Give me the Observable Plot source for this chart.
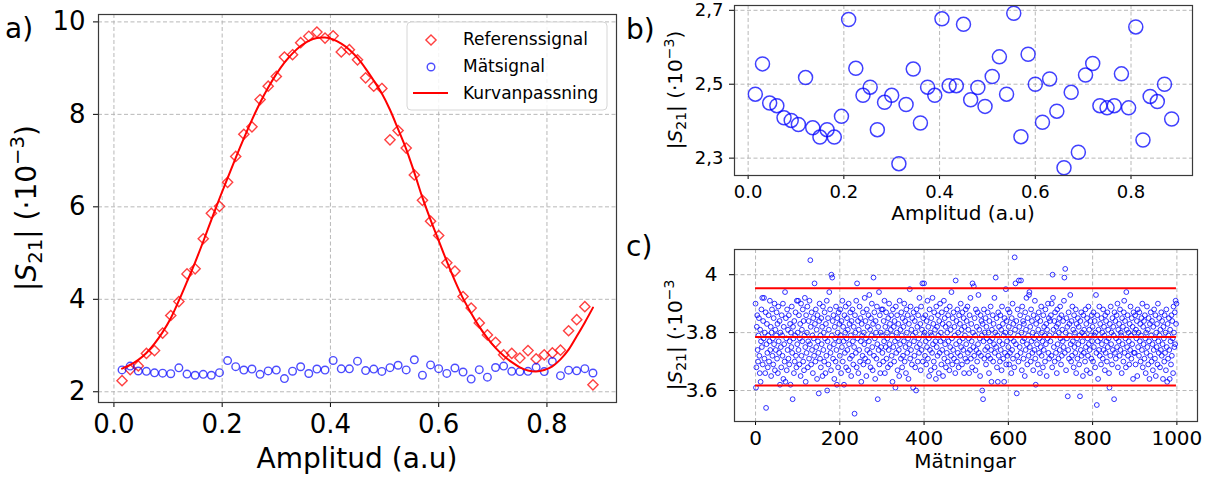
<!DOCTYPE html>
<html><head><meta charset="utf-8">
<script src="https://cdn.jsdelivr.net/npm/d3@7"></script>
<script src="https://cdn.jsdelivr.net/npm/@observablehq/plot@0.6"></script>
<style>
body{margin:0;background:#fff;}
#wrap{position:relative;width:1215px;height:482px;overflow:hidden;font-family:"DejaVu Sans",sans-serif;}
#wrap svg{position:absolute;overflow:visible;max-width:none;}
</style></head><body><div id="wrap"></div>
<script>
// ---------- data ----------
const amplitude = [0.015,0.03,0.045,0.06,0.075,0.09,0.105,0.12,0.135,0.15,0.165,0.18,0.195,0.21,0.225,0.24,0.255,0.27,0.285,0.3,
0.315,0.33,0.345,0.36,0.375,0.39,0.405,0.42,0.435,0.45,0.465,0.48,0.495,0.51,0.525,0.54,0.555,0.57,0.585,0.6,
0.615,0.63,0.645,0.66,0.675,0.69,0.705,0.72,0.735,0.75,0.765,0.78,0.795,0.81,0.825,0.84,0.855,0.87,0.885];
const referenssignal = [2.24,2.48,2.56,2.83,2.89,3.27,3.65,3.95,4.55,4.66,
5.31,5.86,6.01,6.53,7.09,7.57,7.73,8.32,8.61,8.82,
9.24,9.29,9.55,9.69,9.78,9.65,9.70,9.35,9.40,9.18,
8.79,8.61,8.56,7.45,7.65,7.27,6.69,6.14,5.69,5.38,
4.79,4.61,4.06,3.81,3.49,3.23,3.07,2.80,2.83,2.73,
2.89,2.71,2.80,2.84,2.90,3.32,3.56,3.84,2.15];
const matsignal = [2.473,2.555,2.449,2.442,2.409,2.402,2.391,2.518,2.382,2.357,
2.377,2.357,2.413,2.675,2.543,2.470,2.492,2.377,2.451,2.470,
2.285,2.445,2.541,2.395,2.492,2.470,2.677,2.496,2.496,2.662,
2.458,2.491,2.440,2.521,2.574,2.473,2.692,2.358,2.581,2.500,
2.397,2.514,2.427,2.274,2.478,2.316,2.525,2.556,2.442,2.436,
2.442,2.528,2.436,2.655,2.349,2.467,2.453,2.500,2.406];
const kurvanpassning = [2.50,2.58,2.69,2.84,3.04,3.29,3.59,3.97,4.38,4.80,
5.25,5.72,6.18,6.62,7.06,7.48,7.88,8.25,8.58,8.87,
9.12,9.32,9.48,9.59,9.65,9.66,9.62,9.53,9.40,9.22,
8.99,8.73,8.45,8.10,7.68,7.25,6.74,6.20,5.72,5.27,
4.82,4.40,4.02,3.70,3.41,3.16,2.95,2.78,2.64,2.53,
2.46,2.44,2.47,2.55,2.70,2.91,3.20,3.50,3.82];
const matningar = [
3.90,3.61,3.68,3.82,3.86,3.74,3.70,3.79,3.85,3.72,3.66,3.81,3.63,3.77,3.88,3.75,3.92,3.69,3.84,3.78,
3.92,3.71,3.80,3.66,3.87,3.54,3.76,3.83,3.73,3.68,3.79,3.86,3.70,3.77,3.91,3.74,3.82,3.65,3.80,3.88,
3.72,3.78,3.69,3.85,3.76,3.90,3.67,3.81,3.74,3.79,3.87,3.71,3.83,3.66,3.89,3.77,3.73,3.84,3.62,3.80,
3.75,3.68,3.86,3.79,3.72,3.90,3.64,3.82,3.76,3.70,3.94,3.63,3.85,3.78,3.67,3.88,3.74,3.81,3.71,3.86,
3.69,3.77,3.83,3.62,3.80,3.75,3.89,3.73,3.57,3.82,3.78,3.66,3.84,3.70,3.79,3.87,3.72,3.68,3.91,3.76,
3.80,3.91,3.74,3.86,3.69,3.78,3.83,3.65,3.90,3.72,3.81,3.77,3.88,3.70,3.84,3.67,3.79,3.92,3.75,3.63,
3.86,3.73,3.80,3.89,3.68,3.77,3.84,3.71,3.91,3.76,4.05,3.82,3.69,3.87,3.74,3.79,3.66,3.85,3.78,3.72,
3.97,3.83,3.70,3.88,3.75,3.81,3.64,3.86,3.77,3.73,3.59,3.84,3.90,3.71,3.79,3.68,3.85,3.76,3.82,3.65,
3.89,3.74,3.80,3.70,3.87,3.78,3.66,3.83,3.72,3.91,3.60,3.77,3.85,3.69,3.81,3.94,3.75,3.88,3.73,3.67,
4.00,3.79,3.99,3.84,3.71,3.86,3.76,3.64,3.82,3.78,3.70,3.89,3.74,3.62,3.85,3.80,3.68,3.87,3.77,3.83,
3.72,3.88,3.79,3.66,3.84,3.75,3.91,3.70,3.82,3.77,3.62,3.86,3.73,3.80,3.89,3.68,3.78,3.85,3.74,3.81,
3.67,3.90,3.76,3.83,3.71,3.87,3.79,3.65,3.84,3.72,3.88,3.77,3.69,3.82,3.75,3.52,3.86,3.80,3.73,3.91,
3.68,3.97,3.78,3.84,3.66,3.81,3.74,3.89,3.70,3.85,3.77,3.63,3.83,3.79,3.72,3.87,3.69,3.80,3.76,3.92,
3.71,3.84,3.78,3.65,3.88,3.74,3.82,3.70,3.86,3.77,3.93,3.73,3.81,3.68,3.85,3.79,3.90,3.75,3.67,3.83,
3.99,3.72,3.87,3.78,3.64,3.84,3.80,3.71,3.89,3.76,3.57,3.82,3.74,3.94,3.69,3.86,3.66,3.80,3.75,3.88,
3.79,3.73,3.88,3.70,3.84,3.77,3.91,3.66,3.82,3.75,3.87,3.71,3.80,3.78,3.68,3.85,3.74,3.90,3.76,3.83,
3.69,3.81,3.86,3.72,3.79,3.63,3.88,3.75,3.82,3.70,3.84,3.77,3.61,3.89,3.73,3.80,3.86,3.67,3.78,3.83,
3.74,3.65,3.91,3.76,3.81,3.71,3.87,3.79,3.68,3.85,3.72,3.82,3.77,3.90,3.70,3.84,3.75,3.66,3.88,3.80,
3.73,3.86,3.78,3.64,3.83,3.76,3.95,3.71,3.89,3.74,3.81,3.69,3.85,3.79,3.61,3.87,3.77,3.72,3.84,3.68,
3.80,3.60,3.88,3.75,3.82,3.70,3.86,3.78,3.73,3.92,3.76,3.83,3.67,3.89,3.74,3.81,3.97,3.70,3.85,3.79,
3.97,3.80,3.72,3.86,3.77,3.69,3.84,3.75,3.91,3.71,3.82,3.78,3.65,3.88,3.74,3.80,3.67,3.85,3.79,3.73,
3.92,3.76,3.83,3.70,3.87,3.68,3.81,3.77,3.64,3.89,3.75,3.82,3.72,3.86,3.79,3.66,3.84,3.73,3.90,3.77,
3.80,3.69,3.87,3.74,3.83,3.65,3.78,3.91,3.71,3.85,3.76,3.82,3.68,3.88,3.73,3.80,3.70,3.86,3.77,3.83,
3.67,3.89,3.75,3.81,3.72,3.94,3.78,3.69,3.85,3.74,3.87,3.71,3.82,3.79,3.66,3.98,3.76,3.84,3.70,3.88,
3.73,3.80,3.68,3.86,3.77,3.83,3.72,3.90,3.75,3.81,3.69,3.87,3.78,3.74,3.85,3.66,3.82,3.79,3.71,3.88,
3.76,3.84,3.70,3.89,3.73,3.81,3.78,3.66,3.86,3.74,3.92,3.71,3.83,3.77,3.68,3.97,3.80,3.75,3.96,3.72,
3.85,3.79,3.67,3.88,3.74,3.82,3.70,3.87,3.76,3.93,3.73,3.81,3.78,3.65,3.86,3.72,3.84,3.79,3.60,3.83,
3.57,3.77,3.88,3.71,3.80,3.74,3.85,3.69,3.82,3.78,3.75,3.87,3.72,3.80,3.66,3.84,3.77,3.71,3.89,3.74,
3.63,3.81,3.78,3.86,3.70,3.83,3.76,3.92,3.73,3.80,3.99,3.75,3.85,3.68,3.79,3.63,3.87,3.72,3.82,3.77,
3.70,3.86,3.74,3.81,3.67,3.89,3.76,3.83,3.71,3.79,3.63,3.85,3.73,3.80,3.95,3.69,3.84,3.77,3.72,3.88,
3.75,3.82,3.69,3.87,3.73,3.80,3.78,3.66,3.85,3.74,3.90,3.71,3.83,3.77,3.68,4.06,3.81,3.97,3.76,3.84,
3.59,3.72,3.88,3.79,3.70,3.98,3.82,3.75,3.86,3.73,3.98,3.80,3.67,3.89,3.77,3.84,3.71,3.83,3.78,3.65,
3.87,3.74,3.81,3.92,3.76,3.69,3.85,3.79,3.72,3.93,3.94,3.75,3.82,3.70,3.88,3.77,3.84,3.73,3.80,3.67,
3.86,3.78,3.74,3.91,3.71,3.62,3.83,3.79,3.76,3.85,3.69,3.81,3.87,3.73,3.78,3.66,3.84,3.75,3.89,3.72,
3.80,3.77,3.68,3.86,3.74,3.82,3.79,3.70,3.88,3.76,3.83,3.65,3.81,3.78,3.90,3.73,3.85,3.71,3.79,3.84,
3.77,3.86,3.72,3.90,3.68,4.00,3.92,3.81,3.75,3.84,3.70,3.87,3.79,3.73,3.82,3.66,3.88,3.76,3.83,3.71,
3.80,3.85,3.74,3.89,3.78,3.69,3.86,3.72,3.81,3.77,3.84,3.75,3.91,3.99,3.73,4.02,3.80,3.67,3.85,3.78,
3.82,3.58,3.74,3.87,3.71,3.83,3.79,3.93,3.76,3.70,3.84,3.72,3.89,3.77,3.81,3.68,3.86,3.75,3.80,3.73,
3.88,3.66,3.83,3.78,3.71,3.85,3.76,3.82,3.69,3.79,3.58,3.84,3.74,3.87,3.72,3.80,3.77,3.65,3.86,3.73,
3.81,3.79,3.70,3.88,3.75,3.83,3.67,3.85,3.78,3.72,3.89,3.76,3.81,3.74,3.66,3.84,3.79,3.71,3.86,3.77,
3.82,3.70,3.87,3.75,3.79,3.84,3.68,3.80,3.93,3.73,3.55,3.86,3.77,3.64,3.81,3.74,3.89,3.72,3.83,3.78,
3.69,3.85,3.76,3.80,3.71,3.88,3.74,3.82,3.79,3.67,3.86,3.73,3.84,3.77,3.70,3.87,3.75,3.81,3.78,3.66,
3.61,3.83,3.72,3.89,3.76,3.80,3.69,3.85,3.74,3.82,3.79,3.57,3.87,3.73,3.84,3.71,3.78,3.86,3.75,3.90,
3.68,3.81,3.77,3.83,3.72,3.88,3.74,3.80,3.79,3.66,3.85,3.76,3.82,3.70,3.87,3.91,3.73,3.84,3.78,3.68,
3.94,3.81,3.75,3.86,3.72,3.80,3.77,3.69,3.83,3.74,3.89,3.79,3.71,3.85,3.76,3.82,3.64,3.87,3.73,3.80,
3.73,3.86,3.69,3.81,3.78,3.84,3.65,3.88,3.75,3.80,3.72,3.87,3.77,3.83,3.70,3.79,3.85,3.74,3.90,3.68,
3.82,3.76,3.84,3.71,3.86,3.78,3.66,3.80,3.73,3.89,3.75,3.81,3.69,3.85,3.77,3.64,3.83,3.72,3.87,3.79,
3.70,3.84,3.76,3.67,3.82,3.74,3.88,3.78,3.71,3.86,3.65,3.80,3.75,3.83,3.69,3.90,3.77,3.73,3.85,3.79,
3.68,3.81,3.74,3.87,3.72,3.84,3.76,3.64,3.82,3.78,3.70,3.86,3.73,3.80,3.67,3.88,3.75,3.63,3.83,3.71,
3.79,3.85,3.74,3.64,3.81,3.77,3.69,3.86,3.72,3.84,3.78,3.66,3.89,3.80,3.75,3.87,3.76,3.91,3.83,3.90];
const cMean = 3.785, cUpper = 3.953, cLower = 3.617;

const xTicksAB = [0, 0.2, 0.4, 0.6, 0.8];
const yTicksA = [2, 4, 6, 8, 10];
const yTicksB = [2.3, 2.5, 2.7];
const yTickLabelsB = ["2,3", "2,5", "2,7"];
const xTicksC = [0, 200, 400, 600, 800, 1000];
const yTicksC = [3.6, 3.8, 4.0];
const yTickLabelsC = ["3.6", "3.8", "4"];
const legendLabels = ["Referenssignal", "Mätsignal", "Kurvanpassning"];

// ---------- styles ----------
const FONT = "DejaVu Sans, sans-serif";
const RED = "#ff0000", BLUE = "#0000ff";
const grid = {stroke: "#b0b0b0", strokeOpacity: 1, strokeWidth: 0.9, strokeDasharray: "4,2.5"};
const frame = Plot.frame({stroke: "#3a3a3a", strokeWidth: 1.2});

const refData = amplitude.map((x, i) => ({x, y: referenssignal[i]}));
const matData = amplitude.map((x, i) => ({x, y: matsignal[i]}));
const fitData = amplitude.map((x, i) => ({x, y: kurvanpassning[i]}));
const cData = matningar.map((y, i) => ({x: i, y}));
const cLines = [cUpper, cMean, cLower].map(y => ({y, x1: 0, x2: matningar.length - 1}));

const wrap = document.getElementById("wrap");
function place(svg, left, top) { svg.style.left = left + "px"; svg.style.top = top + "px"; wrap.appendChild(svg); return d3.select(svg); }
function txt(sel, x, y, s, size, anchor) {
  return sel.append("text").attr("x", x).attr("y", y).attr("text-anchor", anchor || "start")
    .style("font-family", FONT).style("font-size", size + "px").attr("fill", "#000").text(s);
}
function s21Label(sel, x, y, size, closing) {
  const t = sel.append("text").attr("transform", `translate(${x},${y}) rotate(-90)`)
    .attr("text-anchor", "middle").style("font-family", FONT).style("font-size", size + "px").attr("fill", "#000");
  t.append("tspan").text("|");
  t.append("tspan").style("font-style", "italic").text("S");
  t.append("tspan").style("font-size", (size * 0.7) + "px").attr("dy", size * 0.2).text("21");
  t.append("tspan").attr("dy", -size * 0.2).text("| (·10");
  t.append("tspan").style("font-size", (size * 0.7) + "px").attr("dy", -size * 0.42).text("−3");
  if (closing) t.append("tspan").attr("dy", size * 0.42).text(")");
  return t;
}

// ---------- panel a ----------
const pa = Plot.plot({
  width: 620, height: 482, marginLeft: 98, marginRight: 4, marginTop: 14, marginBottom: 80,
  style: {fontFamily: FONT, background: "transparent", overflow: "visible"},
  x: {domain: [-0.0285, 0.9285]}, y: {domain: [1.768, 10.16]},
  marks: [
    Plot.gridX(xTicksAB, grid), Plot.gridY(yTicksA, grid),
    Plot.dot(refData, {x: "x", y: "y", symbol: "diamond2", r: 4.6, stroke: RED, strokeOpacity: 0.75, strokeWidth: 1.4, fill: "none"}),
    Plot.dot(matData, {x: "x", y: "y", r: 3.8, stroke: BLUE, strokeOpacity: 0.7, strokeWidth: 1.4, fill: "none"}),
    Plot.line(fitData, {x: "x", y: "y", stroke: RED, strokeWidth: 2, curve: "catmull-rom"}),
    Plot.axisX(xTicksAB, {tickFormat: d => d.toFixed(1), fontSize: 26, tickSize: 5, tickPadding: 7, label: null}),
    Plot.axisY(yTicksA, {tickFormat: d => String(d), fontSize: 26, tickSize: 5, tickPadding: 8, label: null}),
    frame
  ]
});
const sa = place(pa, 0, 0);
txt(sa, 357, 468, "Amplitud (a.u)", 28, "middle");
s21Label(sa, 36, 208, 28, true);
txt(sa, 5, 38, "a)", 28);
// legend
const lg = sa.append("g");
lg.append("rect").attr("x", 407).attr("y", 22).attr("width", 200).attr("height", 88).attr("rx", 4)
  .attr("fill", "#fff").attr("fill-opacity", 0.85).attr("stroke", "#d6d6d6");
lg.append("path").attr("d", d3.symbol(d3.symbolDiamond2, Math.PI * 4.6 * 4.6)()).attr("transform", "translate(431,40)")
  .attr("fill", "none").attr("stroke", RED).attr("stroke-opacity", 0.75).attr("stroke-width", 1.4);
lg.append("circle").attr("cx", 431).attr("cy", 67).attr("r", 3.8).attr("fill", "none")
  .attr("stroke", BLUE).attr("stroke-opacity", 0.7).attr("stroke-width", 1.4);
lg.append("line").attr("x1", 413).attr("x2", 448).attr("y1", 93).attr("y2", 93).attr("stroke", RED).attr("stroke-width", 2);
legendLabels.forEach((l, i) => txt(lg, 463, [45, 72, 99][i], l, 17));

// ---------- panel b ----------
const pb = Plot.plot({
  width: 595, height: 230, marginLeft: 114, marginRight: 23, marginTop: 5, marginBottom: 55,
  style: {fontFamily: FONT, background: "transparent", overflow: "visible"},
  x: {domain: [-0.0285, 0.9285]}, y: {domain: [2.253, 2.713]},
  marks: [
    Plot.gridX(xTicksAB, grid), Plot.gridY(yTicksB, grid),
    Plot.dot(matData, {x: "x", y: "y", r: 7, stroke: BLUE, strokeOpacity: 0.75, strokeWidth: 1.5, fill: "none"}),
    Plot.axisX(xTicksAB, {tickFormat: d => d.toFixed(1), fontSize: 18, tickSize: 4, tickPadding: 6, label: null}),
    Plot.axisY(yTicksB, {tickFormat: d => yTickLabelsB[yTicksB.indexOf(d)], fontSize: 18, tickSize: 5, tickPadding: 6, label: null}),
    frame
  ]
});
const sb = place(pb, 620, 0);
txt(sb, 343, 220, "Amplitud (a.u)", 20, "middle");
s21Label(sb, 62, 90, 20, true);
txt(sb, 6, 39, "b)", 28);

// ---------- panel c ----------
const pc = Plot.plot({
  width: 595, height: 252, marginLeft: 114, marginRight: 18, marginTop: 19, marginBottom: 61,
  style: {fontFamily: FONT, background: "transparent", overflow: "visible"},
  x: {domain: [-49.95, 1048.95]}, y: {domain: [3.493, 4.087]},
  marks: [
    Plot.gridX(xTicksC, grid), Plot.gridY(yTicksC, grid),
    Plot.dot(cData, {x: "x", y: "y", r: 2.4, stroke: BLUE, strokeOpacity: 0.8, strokeWidth: 1, fill: "none"}),
    Plot.ruleY(cLines, {y: "y", x1: "x1", x2: "x2", stroke: RED, strokeWidth: 2}),
    Plot.axisX(xTicksC, {tickFormat: d => String(d), fontSize: 20, tickSize: 4, tickPadding: 5, label: null}),
    Plot.axisY(yTicksC, {tickFormat: d => yTickLabelsC[yTicksC.indexOf(d)], fontSize: 20, tickSize: 5, tickPadding: 12, label: null}),
    frame
  ]
});
const sc = place(pc, 620, 230);
txt(sc, 345, 238, "Mätningar", 20, "middle");
s21Label(sc, 62, 105, 20, false);
txt(sc, 6, 26, "c)", 28);
</script></body></html>
